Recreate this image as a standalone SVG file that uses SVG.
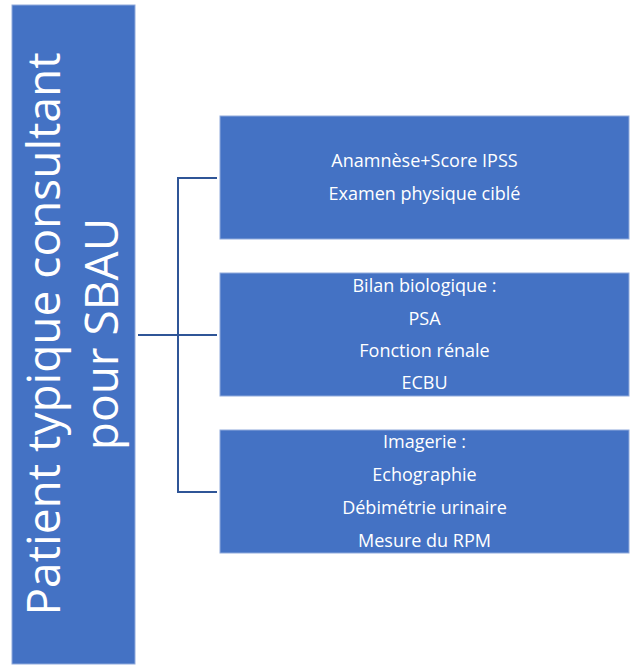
<svg xmlns="http://www.w3.org/2000/svg" width="630" height="666" viewBox="0 0 630 666">
<style>
.box{fill:#4472C4;stroke:#8FAADC;stroke-width:1}
.t{font-family:"Open Sans","Liberation Sans",sans-serif;fill:#FFFFFF;text-anchor:middle;font-size:18px}
.big{font-family:"Open Sans","Liberation Sans",sans-serif;fill:#FFFFFF;text-anchor:middle;font-size:46px}
.c{fill:none;stroke:#2F5597;stroke-width:2}
</style>
<rect width="630" height="666" fill="#FFFFFF"/>
<g id="connectors">
<path class="c" d="M217,178 H178 V492 H217"/>
<path class="c" d="M138,335 H217"/>
</g>
<g id="root">
<rect class="box" x="12" y="5" width="123" height="659"/>
<text class="big" transform="translate(60,334) rotate(-90)">Patient typique consultant</text>
<text class="big" transform="translate(118,334) rotate(-90)">pour SBAU</text>
</g>
<g id="n1">
<rect class="box" x="220" y="116" width="409" height="123"/>
<text class="t" x="424.5" y="167">Anamnèse+Score IPSS</text>
<text class="t" x="424.5" y="200">Examen physique ciblé</text>
</g>
<g id="n2">
<rect class="box" x="220" y="273" width="409" height="123"/>
<text class="t" x="424.5" y="292">Bilan biologique :</text>
<text class="t" x="424.5" y="325">PSA</text>
<text class="t" x="424.5" y="357">Fonction rénale</text>
<text class="t" x="424.5" y="389">ECBU</text>
</g>
<g id="n3">
<rect class="box" x="220" y="430" width="409" height="123"/>
<text class="t" x="424.5" y="448">Imagerie :</text>
<text class="t" x="424.5" y="481">Echographie</text>
<text class="t" x="424.5" y="514">Débimétrie urinaire</text>
<text class="t" x="424.5" y="547">Mesure du RPM</text>
</g>
</svg>
